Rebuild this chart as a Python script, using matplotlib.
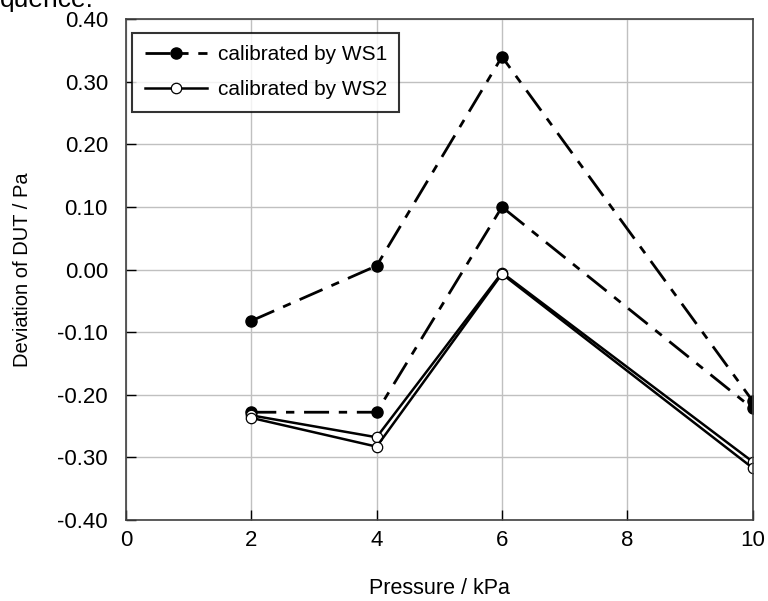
import numpy as np
import matplotlib
matplotlib.use("Agg")
import matplotlib.pyplot as plt

plt.rcParams["font.family"] = ["Liberation Sans", "DejaVu Sans"]

# Data
pressure = [2, 4, 6, 10]
ws1_run1 = [-0.082, 0.006, 0.340, -0.210]
ws1_run2 = [-0.228, -0.228, 0.100, -0.222]
ws2_run1 = [-0.233, -0.268, -0.005, -0.307]
ws2_run2 = [-0.237, -0.283, -0.007, -0.317]

x_ticks = [0, 2, 4, 6, 8, 10]
y_ticks = [-0.40, -0.30, -0.20, -0.10, 0.00, 0.10, 0.20, 0.30, 0.40]

fig = plt.figure(figsize=(7.68, 6.01), dpi=100)
ax = fig.add_axes([0.164, 0.135, 0.816, 0.833])

# cropped caption text at the very top
fig.text(0.0, 1.0, "quence:", fontsize=19, ha="left", va="center")

dash = (0, (9, 3.5, 3, 3.5))
ax.plot(pressure, ws1_run1, color="black", lw=2, linestyle=dash,
        marker="o", markersize=8, markerfacecolor="black", label="calibrated by WS1")
ax.plot(pressure, ws1_run2, color="black", lw=2, linestyle=dash,
        marker="o", markersize=8, markerfacecolor="black")
ax.plot(pressure, ws2_run1, color="black", lw=1.8, linestyle="-",
        marker="o", markersize=7.5, markerfacecolor="white", markeredgewidth=0.9,
        label="calibrated by WS2")
ax.plot(pressure, ws2_run2, color="black", lw=1.8, linestyle="-",
        marker="o", markersize=7.5, markerfacecolor="white", markeredgewidth=0.9)

ax.set_xlim(0, 10)
ax.set_ylim(-0.40, 0.40)
ax.set_xticks(x_ticks)
ax.set_yticks(y_ticks)
ax.set_yticklabels(["%.2f" % v for v in y_ticks])
ax.tick_params(direction="in", length=7, width=1, labelsize=16)
ax.tick_params(axis="y", pad=13)
ax.tick_params(axis="x", pad=7)
ax.grid(True, color="#c0c0c0", lw=1)
ax.set_axisbelow(True)
for s in ax.spines.values():
    s.set_color("#404040")
    s.set_linewidth(1.2)

ax.set_xlabel("Pressure / kPa", fontsize=15.5, labelpad=20)
ax.set_ylabel("Deviation of DUT / Pa", fontsize=14.5, labelpad=18)

leg = ax.legend(loc="upper left", fontsize=15, frameon=True, fancybox=False,
                edgecolor="black", handlelength=3.0, handletextpad=0.5,
                borderpad=0.6, labelspacing=0.75, borderaxespad=0.3,
                bbox_to_anchor=(0.0, 0.985))
leg.get_frame().set_linewidth(1.5)

fig.savefig("out.png", dpi=100)
